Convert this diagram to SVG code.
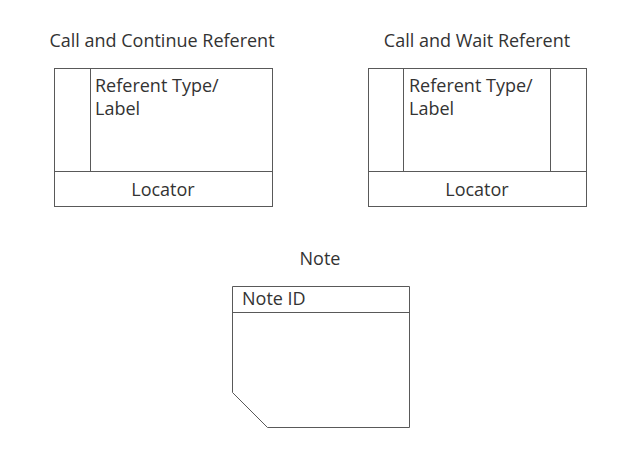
<svg xmlns="http://www.w3.org/2000/svg" width="640" height="454" viewBox="0 0 640 454">
<style>
.s{fill:#fff;stroke:#595959;stroke-width:1}
.l{fill:none;stroke:#595959;stroke-width:1}
text{font-family:"Open Sans","DejaVu Sans",sans-serif;font-size:18px;fill:#333}
.c{text-anchor:middle}
</style>
<rect width="640" height="454" fill="#fff"/>
<g id="call-continue">
<text class="c" x="162" y="47">Call and Continue Referent</text>
<rect class="s" x="54.5" y="68.5" width="218" height="138"/>
<line class="l" x1="90.5" y1="68.5" x2="90.5" y2="171.5"/>
<line class="l" x1="54.5" y1="171.5" x2="272.5" y2="171.5"/>
<text x="95" y="92">Referent Type/</text>
<text x="95" y="115">Label</text>
<text class="c" x="163" y="196">Locator</text>
</g>
<g id="call-wait">
<text class="c" x="477" y="47">Call and Wait Referent</text>
<rect class="s" x="368.5" y="68.5" width="218" height="138"/>
<line class="l" x1="403.5" y1="68.5" x2="403.5" y2="171.5"/>
<line class="l" x1="550.5" y1="68.5" x2="550.5" y2="171.5"/>
<line class="l" x1="368.5" y1="171.5" x2="586.5" y2="171.5"/>
<text x="409" y="92">Referent Type/</text>
<text x="409" y="115">Label</text>
<text class="c" x="477" y="196">Locator</text>
</g>
<g id="note">
<text class="c" x="320" y="265">Note</text>
<path class="s" d="M232.5 286.5H409.5V427.5H267.5L232.5 392.5Z"/>
<line class="l" x1="232.5" y1="312.5" x2="409.5" y2="312.5"/>
<text x="242" y="305">Note ID</text>
</g>
<g id="connectors"/>
</svg>
